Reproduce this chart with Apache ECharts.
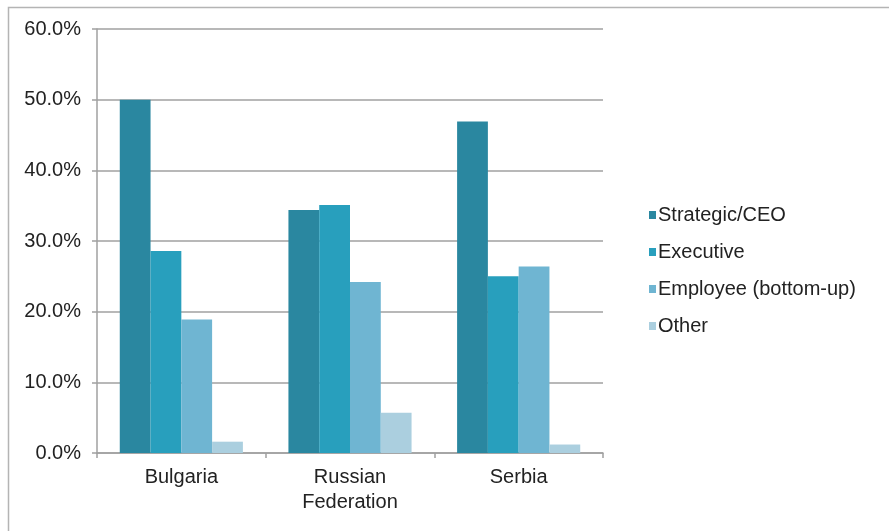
<!DOCTYPE html>
<html>
<head>
<meta charset="utf-8">
<script src="https://cdn.jsdelivr.net/npm/echarts@6/dist/echarts.min.js"></script>
<style>html,body{margin:0;padding:0;background:#fff;}#c{width:889px;height:531px;}</style>
</head>
<body>
<div id="c"></div>
<script>
const categories = ['Bulgaria', 'Russian\nFederation', 'Serbia'];
const seriesNames = ['Strategic/CEO', 'Executive', 'Employee (bottom-up)', 'Other'];
const strategicCEO = [50.0, 34.4, 46.9];
const executive = [28.6, 35.1, 25.0];
const employee = [18.9, 24.2, 26.4];
const other = [1.6, 5.7, 1.2];
const yTicks = [0, 10, 20, 30, 40, 50, 60];
const colors = ['#2a87a0', '#289fbd', '#6fb5d2', '#abcfdf'];

const chart = echarts.init(document.getElementById('c'), null, {renderer: 'canvas'});
const values = [strategicCEO, executive, employee, other];
const font = 'Liberation Sans, Arial, sans-serif';
chart.setOption({
  animation: false,
  color: colors,
  graphic: [{
    type: 'rect', left: 6, top: 5, z: -1,
    shape: {width: 882, height: 525},
    style: {fill: 'none', stroke: '#b4b4b4', lineWidth: 1.5}
  }],
  grid: {left: 97, right: 286, top: 29, bottom: 78},
  legend: {
    orient: 'vertical', left: 644, top: 200,
    itemWidth: 7, itemHeight: 8, itemGap: 17, icon: 'rect',
    textStyle: {fontFamily: font, fontSize: 20, color: '#222', lineHeight: 20, padding: [0,0,0,-3]},
    data: seriesNames
  },
  xAxis: {
    type: 'category', data: categories,
    axisLine: {lineStyle: {color: '#a0a0a0', width: 1.5}},
    axisTick: {show: true, length: 5, lineStyle: {color: '#a0a0a0', width: 1.5}},
    axisLabel: {fontFamily: font, fontSize: 20, color: '#222', lineHeight: 25, margin: 12}
  },
  yAxis: {
    type: 'value', min: 0, max: 60, interval: 10,
    axisLine: {show: true, lineStyle: {color: '#a0a0a0', width: 1.5}},
    axisTick: {show: true, length: 5, lineStyle: {color: '#a0a0a0', width: 1.5}},
    splitLine: {lineStyle: {color: '#a0a0a0', width: 1.5}},
    axisLabel: {fontFamily: font, fontSize: 20, color: '#222', margin: 16,
      formatter: v => yTicks.includes(v) ? v.toFixed(1) + '%' : ''}
  },
  series: seriesNames.map((n, i) => ({
    name: n, type: 'bar', data: values[i],
    barGap: '0%', barCategoryGap: '27%',
    itemStyle: {color: colors[i]}
  }))
});
</script>
</body>
</html>
